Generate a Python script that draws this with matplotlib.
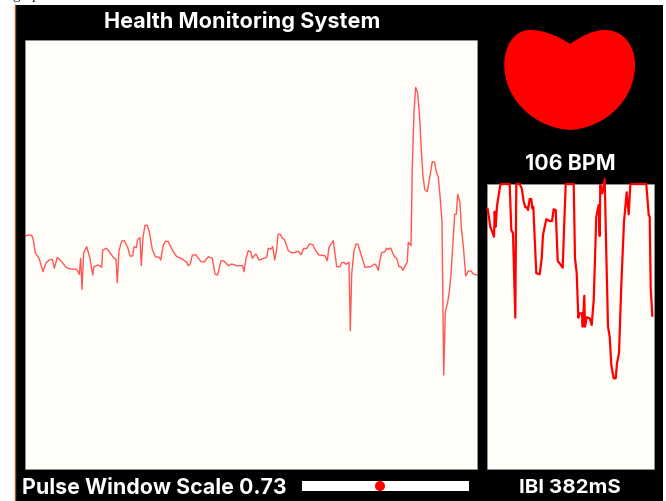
import matplotlib
matplotlib.use('Agg')
import matplotlib.pyplot as plt
from matplotlib.patches import Rectangle, PathPatch, Circle
from matplotlib.path import Path

# pulse trace in screen pixels
pulse_x = [26, 27.3, 31.7, 33.3, 35.3, 39.3, 43, 46, 49.3, 52.3, 54.3, 57.3, 61.7, 66, 70, 76.7, 79.3, 80.7, 82,
           83.7, 86.7, 90, 92.7, 94, 98.3, 101.7, 102.7, 106.7, 110, 114, 116, 117.3, 119, 121.7, 124.3, 127.7,
           130, 132.7, 134, 136.3, 137.7, 140, 141.3, 143, 145, 147.3, 149.3, 152.3, 155.3, 159.3, 160.7, 163.3,
           165.7, 168.3, 172.7, 176.7, 181.7, 186.7, 188.3, 190.3, 192.3, 195.7, 201, 204.3, 208.3, 212.3, 215,
           217.7, 221, 224, 228.3, 231.7, 236.7, 242.7, 244, 246, 248.3, 250.7, 252.3, 254, 256, 259, 266.7,
           268.3, 271, 272.7, 274.7, 276.7, 278, 280.3, 282.3, 284.3, 288.3, 291.7, 295, 297.3, 299, 301, 303.7,
           306.7, 309.3, 312.7, 315.7, 319, 325, 327.3, 329, 333.3, 336.7, 340, 341.7, 344, 346, 349, 350.3,
           351.7, 354, 356, 358, 361.7, 365, 371, 374.3, 376, 378.3, 380, 381.7, 385, 386.3, 388.3, 390.7, 394,
           396.7, 399, 401, 403, 407.3, 408.3, 411, 412.3, 414, 415.7, 417.7, 419.7, 421.3, 423, 424.7, 427.3,
           430.7, 432.3, 434.7, 436, 438.3, 440, 442, 443.7, 445.3, 447.7, 449.3, 451, 452.7, 454.7, 456.3,
           457.7, 460, 461.3, 463.3, 465.7, 468.3, 471, 473.3, 476.7]
pulse_y = [236, 235, 235.3, 240, 252.7, 259, 271.7, 263, 260, 259.3, 268.3, 257.3, 261.7, 267.3, 269, 269.3, 274.3,
           258.3, 289.3, 252.7, 246.7, 258.3, 275, 266.7, 265, 267.3, 250, 248.3, 252.7, 258.3, 259, 282.7, 250.7,
           241, 240.7, 247.3, 256, 256, 246.7, 247.7, 239.3, 237.7, 265.7, 237.3, 225.3, 225.3, 231.7, 249.3,
           256.7, 257.3, 260, 245, 241.3, 241.7, 250.7, 256.7, 258.7, 262.3, 265.7, 264, 255.3, 254.7, 261.7, 262,
           256.7, 258.3, 274, 275, 260.7, 261, 265.7, 264, 265.7, 265.7, 271.7, 258.3, 250.7, 251.7, 258.3, 256,
           254, 260, 257.3, 248.3, 249, 246.7, 260, 249.3, 234.3, 234.3, 238.3, 239.3, 250.7, 252.7, 252.7, 251.3,
           251.7, 254.7, 248.3, 248.7, 244, 244.7, 250.7, 255, 255.7, 260.7, 247.3, 240.7, 266.7, 266.7, 262.7,
           262.3, 264.3, 262.3, 330.7, 274, 250.7, 244, 244.3, 256.7, 267.3, 266.7, 264, 265, 270.3, 260, 252.7,
           251.7, 248.3, 249.3, 248, 256, 258.3, 266.7, 266.7, 270.3, 261.7, 242.3, 245.7, 166.7, 112.3, 87.3,
           93.3, 118.3, 150, 176, 189.3, 191.7, 171.7, 161.7, 162.3, 170.7, 177.3, 195.7, 221.7, 375, 311.7, 302.3,
           291.7, 274.3, 246, 214.3, 214.3, 194.3, 202.3, 227.7, 245.7, 276, 271, 271, 274, 275]

# IBI trace
ibi_x = [487.7, 490.3, 494, 494.7, 495.7, 497, 500.3, 501.3, 509.7, 511.3, 513, 515.3, 516.3, 519.7, 521.7, 523.7,
         525.3, 527, 528, 529.7, 531.3, 532.3, 533.3, 534.7, 536.3, 539.7, 541.7, 543, 546.3, 549.7, 552, 553.7,
         555.7, 557.7, 560.3, 562.7, 564, 565.7, 573.7, 575, 576.7, 578.3, 579.7, 582, 582.7, 584.3, 585, 586.7,
         589.7, 591.7, 593.7, 596.3, 598.7, 599.7, 600.3, 602.3, 604.7, 606.3, 608, 609.7, 611.3, 613.7, 615.7,
         617, 619, 621.3, 624, 626.7, 628.7, 630.3, 631.3, 646.3, 648.7, 649.7, 650.7, 652.3]
ibi_y = [209, 226.7, 236.7, 211.7, 226.7, 205.7, 185, 184, 184, 230, 233.3, 317.7, 184, 184, 188.3, 201.7, 207.3,
         207.3, 210, 199, 199, 208.3, 206.7, 238.3, 273.3, 274.3, 258.3, 235, 219.3, 221, 221, 209.3, 210, 261,
         264.3, 267.7, 230, 184, 184, 258.3, 273.3, 317.7, 313.3, 313.3, 326.7, 295.7, 326.7, 317.3, 318.3, 325,
         300, 216.7, 205, 236, 185, 193.3, 179, 253.3, 326.7, 336.7, 365, 378.3, 378.3, 363.3, 353.3, 285, 221.7,
         192.3, 214.3, 185, 184, 184, 215, 216.7, 288.3, 315.7]

title = 'Health Monitoring System'
bpm_label = '106 BPM'
ibi_label = 'IBI 382mS'
scale_label = 'Pulse Window Scale 0.73'
scale_pos = 380

plt.rcParams['font.family'] = ['Inter', 'DejaVu Sans']

fig = plt.figure(figsize=(6.66, 5.01), dpi=100, facecolor='white')
ax = fig.add_axes([0, 0, 1, 1])
ax.set_xlim(0, 666)
ax.set_ylim(501, 0)
ax.axis('off')

# scrap of page text cut off above the window
ax.text(13, -1, 'g up a', fontsize=11, family='Liberation Serif', color='#222222', va='baseline', clip_on=False)

ax.add_patch(Rectangle((15, 5), 648, 496, fc='black', ec='none'))
ax.plot([15, 15], [5, 501], color='#a85a2a', lw=1.0)

panel_bg = '#fffdf8'
ax.add_patch(Rectangle((25, 40), 452, 429, fc=panel_bg, ec='#999999', lw=0.5))
ax.add_patch(Rectangle((487, 184), 166.5, 285, fc=panel_bg, ec='#999999', lw=0.5))

ax.plot(pulse_x, pulse_y, color='#ff2020', lw=1.0, alpha=0.75, solid_joinstyle='round')
ax.plot(ibi_x, ibi_y, color='#ff0000', lw=1.6, solid_joinstyle='round')

# heart
verts = [(570, 44), (560, 37), (545, 30), (530, 30), (514, 30), (504.3, 46), (504.3, 65),
         (504.3, 100), (535, 128), (570, 130), (605, 128), (635, 100), (635, 65),
         (635, 46), (624, 30), (605, 30), (592, 30), (580, 37), (570, 44)]
codes = [Path.MOVETO] + [Path.CURVE4] * 18
ax.add_patch(PathPatch(Path(verts, codes), fc='#ff0000', ec='none'))

# slider
ax.add_patch(Rectangle((302, 481), 167, 10, fc='white', ec='none'))
ax.add_patch(Circle((scale_pos, 486), 5, fc='#ff0000', ec='none'))

txt = dict(color='white', fontweight='bold', va='center')
ax.text(242, 21.5, title, fontsize=15.6, ha='center', **txt)
ax.text(570, 164, bpm_label, fontsize=15.4, ha='center', **txt)
ax.text(569.5, 488, ibi_label, fontsize=14.8, ha='center', **txt)
ax.text(22, 488, scale_label, fontsize=15.4, ha='left', **txt)

fig.savefig('out.png', dpi=100)
